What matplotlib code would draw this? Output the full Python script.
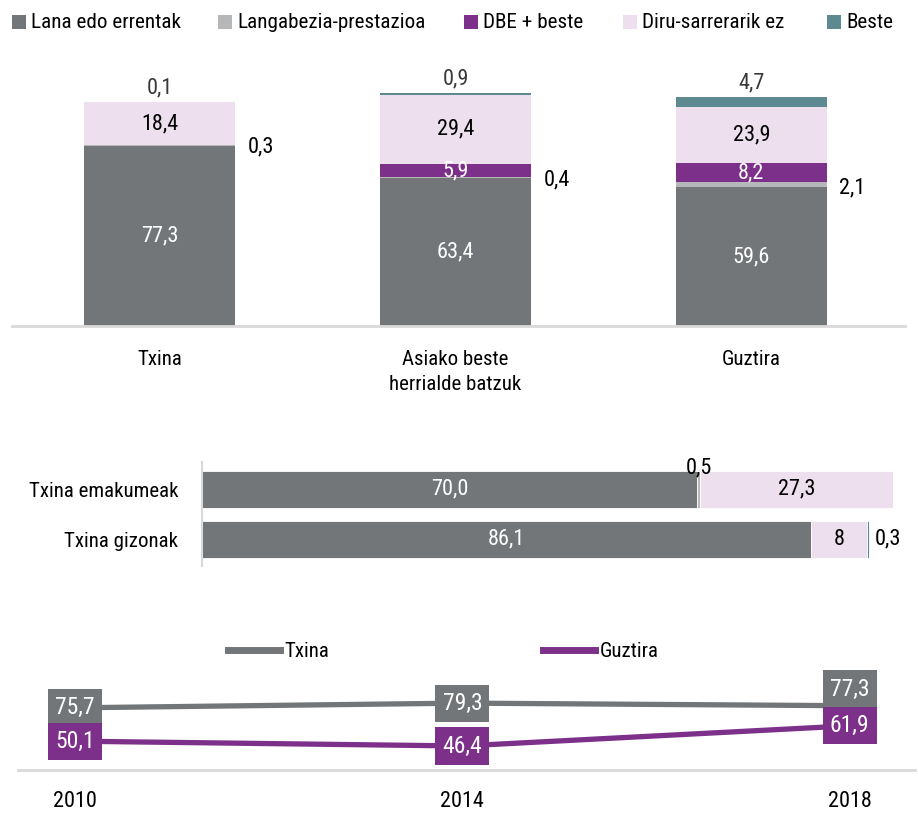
import numpy as np
import matplotlib
matplotlib.use("Agg")
import matplotlib.pyplot as plt
from matplotlib.lines import Line2D
from matplotlib.patches import Rectangle

plt.rcParams['font.family'] = ['Roboto Condensed', 'DejaVu Sans']

# --- data ---
series = ['Lana edo errentak', 'Langabezia-prestazioa', 'DBE + beste', 'Diru-sarrerarik ez', 'Beste']
colors = ['#727678', '#b5b7b8', '#7c308a', '#eddfed', '#5c8a90']

groups = ['Txina', 'Asiako beste\nherrialde batzuk', 'Guztira']
lana = [77.3, 63.4, 59.6]
langabezia = [0.3, 0.4, 2.1]
dbe = [0.0, 5.9, 8.2]
diru = [18.4, 29.4, 23.9]
beste = [0.1, 0.9, 4.7]

sex = ['Txina gizonak', 'Txina emakumeak']
sex_lana = [86.1, 70.0]
sex_langabezia = [0.0, 0.5]
sex_dbe = [0.0, 0.0]
sex_diru = [8.0, 27.3]
sex_beste = [0.3, 0.0]

years = ['2010', '2014', '2018']
txina_line = [75.7, 79.3, 77.3]
guztira_line = [50.1, 46.4, 61.9]


def fmt(v):
    s = ('%.1f' % v).replace('.', ',')
    return s

W, H = 918, 816
fig = plt.figure(figsize=(W / 100, H / 100), dpi=100)
grid_col = '#d9d9d9'

# ---------- legend on top (placed by hand) ----------
leg_x = [12, 218, 464, 623, 827]   # pixel positions of the squares
for px, name, c in zip(leg_x, series, colors):
    fig.patches.append(Rectangle((px / W, 1 - 29 / H), 14 / W, 14 / H, transform=fig.transFigure,
                                 facecolor=c, edgecolor='none'))
    fig.text((px + 19) / W, 1 - 22 / H, name, ha='left', va='center', fontsize=15.2)

# ---------- top stacked columns ----------
ax1 = fig.add_axes([0.013, 0.6005, 0.973, 0.2855])
x = np.arange(len(groups))
w = 0.51
stack = [lana, langabezia, dbe, diru, beste]
bottom = np.zeros(len(groups))
for vals, c in zip(stack, colors):
    ax1.bar(x, vals, w, bottom=bottom, color=c, linewidth=0)
    bottom += np.array(vals)

for i in range(len(groups)):
    ax1.text(x[i], lana[i] / 2, fmt(lana[i]), ha='center', va='center', color='white', fontsize=16)
    if dbe[i] > 0:
        yb = lana[i] + langabezia[i]
        ax1.text(x[i], yb + dbe[i] / 2, fmt(dbe[i]), ha='center', va='center', color='white', fontsize=16)
    yd = lana[i] + langabezia[i] + dbe[i]
    ax1.text(x[i], yd + diru[i] / 2, fmt(diru[i]), ha='center', va='center', color='black', fontsize=16)
    ax1.annotate(fmt(beste[i]), (x[i], bottom[i]), xytext=(0, 10), textcoords='offset points',
                 ha='center', va='center', color='#3a3a3a', fontsize=16, annotation_clip=False)
    ax1.annotate(fmt(langabezia[i]), (x[i] + w / 2, lana[i] - 0.5), xytext=(9, 0),
                 textcoords='offset points', ha='left', va='center', color='black', fontsize=16)

ax1.set_xlim(-0.5, 2.52)
ax1.set_ylim(0, 100)
ax1.set_xticks(x)
ax1.set_xticklabels(groups, fontsize=15, linespacing=1.45, va='top')
ax1.tick_params(axis='x', length=0, pad=17)
ax1.set_yticks([])
for s in ['top', 'right', 'left']:
    ax1.spines[s].set_visible(False)
ax1.spines['bottom'].set_color(grid_col)
ax1.spines['bottom'].set_linewidth(2)

# ---------- middle horizontal bars ----------
ax2 = fig.add_axes([0.22, 0.306, 0.770, 0.1275])
y = np.arange(len(sex))
h = 0.74
hstack = [sex_lana, sex_langabezia, sex_dbe, sex_diru, sex_beste]
left = np.zeros(len(sex))
for vals, c in zip(hstack, colors):
    ax2.barh(y, vals, h, left=left, color=c, edgecolor='white', linewidth=0.6)
    left += np.array(vals)

for i in range(len(sex)):
    ax2.text(sex_lana[i] / 2, y[i], fmt(sex_lana[i]), ha='center', va='center', color='white', fontsize=16)
    xd = sex_lana[i] + sex_langabezia[i] + sex_dbe[i]
    lab = fmt(sex_diru[i]) if sex_diru[i] != int(sex_diru[i]) else '%d' % sex_diru[i]
    ax2.text(xd + sex_diru[i] / 2, y[i], lab, ha='center', va='center', color='black', fontsize=16)
    if sex_langabezia[i] > 0:
        ax2.text(sex_lana[i] + sex_langabezia[i] / 2, y[i] + h / 2 + 0.05, fmt(sex_langabezia[i]),
                 ha='center', va='center', color='black', fontsize=16)
    if sex_beste[i] > 0:
        ax2.annotate(fmt(sex_beste[i]), (left[i], y[i]), xytext=(4, 0), textcoords='offset points',
                     ha='left', va='center', color='black', fontsize=16, annotation_clip=False)

ax2.set_xlim(0, 100)
ax2.set_ylim(-0.54, 1.54)
ax2.set_yticks(y)
ax2.set_yticklabels(sex, fontsize=15)
ax2.tick_params(axis='y', length=0, pad=17)
ax2.set_xticks([])
for s in ['top', 'right', 'bottom']:
    ax2.spines[s].set_visible(False)
ax2.spines['left'].set_color(grid_col)
ax2.spines['left'].set_linewidth(1.5)

# ---------- bottom lines ----------
ax3 = fig.add_axes([0.0196, 0.0564, 0.977, 0.115])
xl = np.arange(len(years))
c_tx, c_gz = colors[0], colors[2]
ax3.plot(xl, txina_line, color=c_tx, lw=3.8, solid_capstyle='round', label='Txina')
ax3.plot(xl, guztira_line, color=c_gz, lw=3.8, solid_capstyle='round', label='Guztira')
tx_off = [0, 0, 12]
for i in range(len(years)):
    ax3.annotate(fmt(txina_line[i]), (xl[i], txina_line[i]), xytext=(0, tx_off[i]),
                 textcoords='offset points', ha='center', va='center', color='white', fontsize=17,
                 bbox=dict(boxstyle='square,pad=0.3', fc=c_tx, ec='none'), annotation_clip=False)
    ax3.annotate(fmt(guztira_line[i]), (xl[i], guztira_line[i]), xytext=(0, 0),
                 textcoords='offset points', ha='center', va='center', color='white', fontsize=17,
                 bbox=dict(boxstyle='square,pad=0.3', fc=c_gz, ec='none'), annotation_clip=False)

ax3.set_xlim(-0.147, 2.168)
ax3.set_ylim(28, 100)
ax3.set_xticks(xl)
ax3.set_xticklabels(years, fontsize=16)
ax3.tick_params(axis='x', length=0, pad=15)
ax3.set_yticks([])
for s in ['top', 'right', 'left']:
    ax3.spines[s].set_visible(False)
ax3.spines['bottom'].set_color(grid_col)
ax3.spines['bottom'].set_linewidth(2)

lh = [Line2D([0], [0], color=c_tx, lw=5), Line2D([0], [0], color=c_gz, lw=5)]
fig.legend(lh, ['Txina', 'Guztira'], loc='center left', bbox_to_anchor=(0.248, 0.201), ncol=2,
           frameon=False, fontsize=15, handlelength=2.5, handletextpad=0.2, columnspacing=10.3,
           borderpad=0, borderaxespad=0)

fig.savefig('out.png', dpi=100)
